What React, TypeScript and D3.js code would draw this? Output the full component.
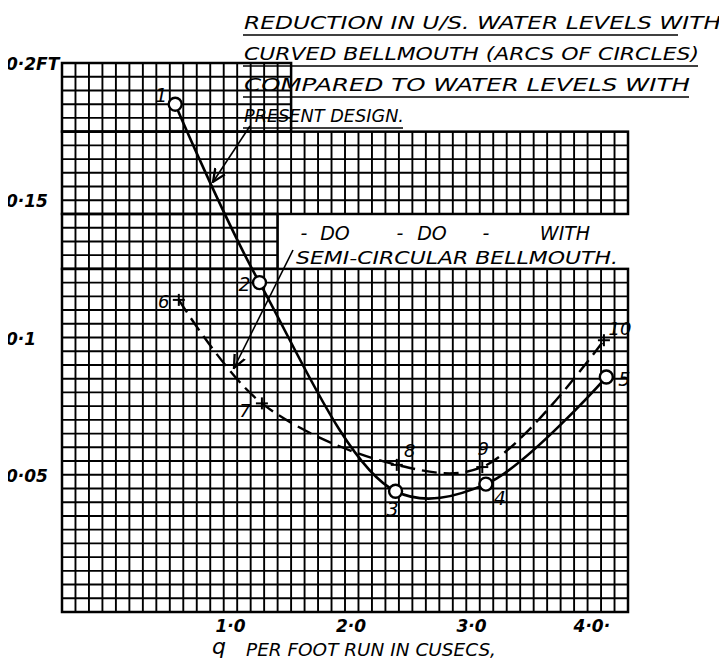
import React from 'react';
import * as d3 from 'd3';

// q per foot run (cusecs) vs reduction in u/s water level (ft)
const curvedQ: number[] = [0.54, 1.24, 2.37, 3.12, 4.12];
const curvedDrop: number[] = [0.185, 0.12, 0.044, 0.0466, 0.0856];
const curvedIds: string[] = ['1', '2', '3', '4', '5'];

const semiQ: number[] = [0.57, 1.26, 2.38, 3.09, 4.1];
const semiDrop: number[] = [0.1137, 0.076, 0.0536, 0.0528, 0.099];
const semiIds: string[] = ['6', '7', '8', '9', '10'];

const xTicks: number[] = [1, 2, 3, 4];
const xTickLabels: string[] = ['1·0', '2·0', '3·0', '4·0·'];
const yTicks: number[] = [0.2, 0.15, 0.1, 0.05];
const yTickLabels: string[] = ['0·2FT', '0·15', '0·1', '0·05'];

const titleLines: string[] = [
  'REDUCTION IN U/S. WATER LEVELS WITH',
  'CURVED BELLMOUTH (ARCS OF CIRCLES)',
  'COMPARED TO WATER LEVELS WITH',
  'PRESENT DESIGN.',
];
const dittoWords: string[] = ['-', 'DO', '-', 'DO', '-', 'WITH'];
const semiLine = 'SEMI-CIRCULAR BELLMOUTH.';

type Pt = { q: number; h: number; id: string };

const FONT = '"DejaVu Sans", "Liberation Sans", sans-serif';

const App = () => {
  const width = 727;
  const height = 668;

  const x = d3.scaleLinear().domain([-0.4, 4.3]).range([62, 628]);
  const y = d3.scaleLinear().domain([0, 0.2]).range([612, 63]);
  // the graph paper: 42 squares across, 40 squares up
  const col = d3.scaleLinear().domain([0, 42]).range([62, 628]);
  const row = d3.scaleLinear().domain([0, 40]).range([612, 63]);

  // paper pieces in squares: [c0, c1, r0, r1]
  const paper: [number, number, number, number][] = [
    [0, 42, 0, 25],
    [0, 16, 25, 29],
    [0, 42, 29, 35],
    [0, 17, 35, 40],
  ];

  const curved: Pt[] = curvedQ.map((q, i) => ({ q, h: curvedDrop[i], id: curvedIds[i] }));
  const semi: Pt[] = semiQ.map((q, i) => ({ q, h: semiDrop[i], id: semiIds[i] }));

  const line = d3
    .line<Pt>()
    .x((d) => x(d.q))
    .y((d) => y(d.h))
    .curve(d3.curveCatmullRom.alpha(0.5));

  const curvedLabelOff: [number, number][] = [[-14, -2], [-15, 8], [-3, 25], [14, 21], [18, 9]];
  const semiLabelOff: [number, number][] = [[-15, 8], [-17, 14], [13, -8], [1, -12], [16, -5]];

  const tx = (v: string, xx: number, yy: number, size: number, key: string, anchor = 'middle', extra: any = {}) => (
    <text
      key={key}
      x={xx}
      y={yy}
      fontSize={size}
      fontStyle="italic"
      fontFamily={FONT}
      textAnchor={anchor}
      fill="#000"
      {...extra}
    >
      {v}
    </text>
  );

  const titleWidths = [477, 455, 446, 160];
  const dittoX = [304, 335, 400, 432, 486, 565];

  return (
    <svg width={width} height={height} style={{ display: 'block', margin: -8, background: '#fff' }}>
      <defs>
        <clipPath id="paper">
          {paper.map((p, i) => (
            <rect key={i} x={col(p[0])} y={row(p[3])} width={col(p[1]) - col(p[0])} height={row(p[2]) - row(p[3])} />
          ))}
        </clipPath>
        <marker id="arr" viewBox="0 0 10 10" refX="9" refY="5" markerWidth="9" markerHeight="9" orient="auto">
          <path d="M0,1 L9,5 L0,9" fill="none" stroke="#000" strokeWidth={1.6} />
        </marker>
      </defs>

      <g clipPath="url(#paper)" stroke="#000" strokeWidth={1.9}>
        {d3.range(0, 43).map((c) => (
          <line key={'v' + c} x1={col(c)} x2={col(c)} y1={row(40)} y2={row(0)} />
        ))}
        {d3.range(0, 41).map((r) => (
          <line key={'h' + r} x1={col(0)} x2={col(42)} y1={row(r)} y2={row(r)} />
        ))}
      </g>
      <g fill="none" stroke="#000" strokeWidth={2.5}>
        {paper.map((p, i) => (
          <rect key={i} x={col(p[0])} y={row(p[3])} width={col(p[1]) - col(p[0])} height={row(p[2]) - row(p[3])} />
        ))}
      </g>

      {/* curves */}
      <path d={line(curved) || ''} fill="none" stroke="#000" strokeWidth={2.6} />
      <path d={line(semi) || ''} fill="none" stroke="#000" strokeWidth={2.4} strokeDasharray="15 7" />

      {/* markers */}
      {curved.map((d, i) => (
        <circle key={'c' + i} cx={x(d.q)} cy={y(d.h)} r={6.5} fill="#fff" stroke="#000" strokeWidth={2.4} />
      ))}
      {semi.map((d, i) => (
        <g key={'s' + i} stroke="#000" strokeWidth={2}>
          <line x1={x(d.q) - 6} x2={x(d.q) + 6} y1={y(d.h)} y2={y(d.h)} />
          <line x1={x(d.q)} x2={x(d.q)} y1={y(d.h) - 6} y2={y(d.h) + 6} />
        </g>
      ))}

      {curved.map((d, i) => tx(d.id, x(d.q) + curvedLabelOff[i][0], y(d.h) + curvedLabelOff[i][1], 19, 'cl' + i))}
      {semi.map((d, i) => tx(d.id, x(d.q) + semiLabelOff[i][0], y(d.h) + semiLabelOff[i][1], 18, 'sl' + i))}

      {/* axes labels */}
      {yTicks.map((v, i) => tx(yTickLabels[i], 6, y(v) + 7, 17, 'yt' + i, 'start', { fontWeight: 'bold' }))}
      {xTicks.map((v, i) => tx(xTickLabels[i], x(v), 632, 17, 'xt' + i, 'middle', { fontWeight: 'bold' }))}
      {tx('q', 212, 654, 22, 'xq', 'start')}
      <text x={246} y={656} fontSize={17} fontStyle="italic" fontFamily={FONT} textLength={250} lengthAdjust="spacingAndGlyphs">
        PER FOOT RUN IN CUSECS,
      </text>
      <line x1={244} x2={497} y1={661} y2={661} stroke="#000" strokeWidth={1.6} />

      {/* title annotation */}
      {titleLines.map((t, i) => (
        <g key={'tl' + i}>
          <text
            x={244}
            y={29 + i * 31}
            fontSize={17}
            fontStyle="italic"
            fontFamily={FONT}
            textLength={titleWidths[i]}
            lengthAdjust="spacingAndGlyphs"
          >
            {t}
          </text>
          <line
            x1={243}
            x2={243 + titleWidths[i] - (i === 0 ? 42 : 0)}
            y1={35 + i * 31}
            y2={35 + i * 31}
            stroke="#000"
            strokeWidth={1.6}
          />
        </g>
      ))}
      {dittoWords.map((w, i) => tx(w, dittoX[i], 240, 19, 'dw' + i))}
      <text x={296} y={264} fontSize={17} fontStyle="italic" fontFamily={FONT} textLength={322} lengthAdjust="spacingAndGlyphs">
        {semiLine}
      </text>

      {/* leaders */}
      <path d="M250,126 L213,182" fill="none" stroke="#000" strokeWidth={1.6} markerEnd="url(#arr)" />
      <path d="M293,250 L234,368" fill="none" stroke="#000" strokeWidth={1.6} markerEnd="url(#arr)" />
    </svg>
  );
};

export default App;
